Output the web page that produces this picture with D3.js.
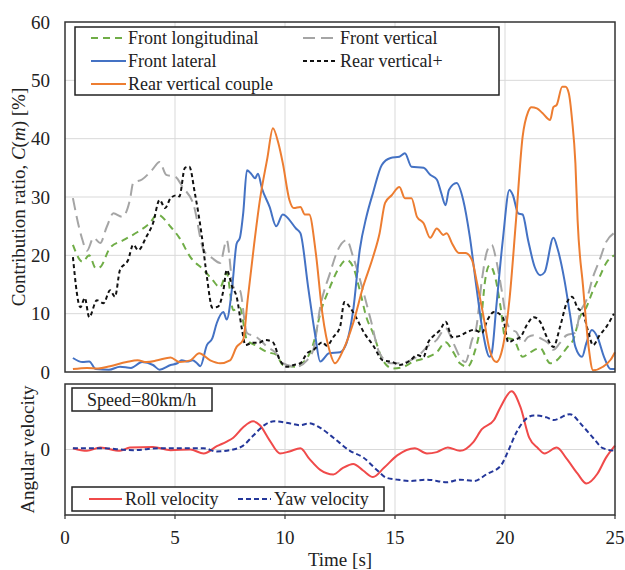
<!DOCTYPE html>
<html>
<head>
<meta charset="utf-8">
<script src="https://cdn.jsdelivr.net/npm/d3@7"></script>
<style>
  body { margin: 0; background: #fff; }
</style>
</head>
<body>
<script>
var width = 625, height = 570;

// contribution ratio [%], as [time s, value]
var frontLongitudinal = [[0.36,21.8],[0.8,18.9],[1.1,20],[1.4,17.8],[1.6,18],[2.05,21.3],[2.65,22.6],[3.3,24],[3.85,25.5],[4.2,27],[4.8,24.9],[5.2,23],[5.7,19.7],[6.3,17.5],[6.7,15.8],[7.05,14.5],[7.35,17],[7.65,10.6],[7.95,11],[8.27,5.5],[8.7,4.5],[9.2,3.4],[9.6,3],[9.9,1.2],[10.5,0.9],[10.8,1.5],[11.3,5],[11.6,10],[12.05,14.6],[12.4,17.5],[12.8,19.2],[13.1,18],[13.4,14],[13.7,9.4],[14,6.7],[14.45,2],[14.9,0.6],[15.4,0.9],[15.8,1.7],[16.45,2.5],[16.9,3.4],[17.3,5.1],[17.65,3.4],[17.95,1.5],[18.3,0.9],[18.6,3.2],[18.9,8.4],[19.1,15.8],[19.3,18.3],[19.55,16.3],[19.8,11.1],[20,6],[20.4,5.5],[20.8,2.6],[21.15,3.4],[21.6,4.1],[22.05,1.5],[22.35,2],[22.8,4.1],[23.1,5.5],[23.4,9.4],[23.7,11.1],[24,14],[24.3,16.3],[24.6,18.7],[24.95,20]];

var frontVertical = [[0.36,29.8],[0.75,23.2],[1.0,20.8],[1.3,23],[1.6,22.1],[1.9,24.9],[2.2,27.2],[2.6,26.6],[2.95,29.5],[3.1,32.4],[3.5,33],[3.95,34.6],[4.3,36],[4.6,33.8],[5.0,33.5],[5.35,31.7],[5.85,28.6],[6.3,20.9],[6.7,19.5],[7.05,18.7],[7.35,22.6],[7.65,14.6],[7.95,14],[8.27,6.7],[8.7,6],[9.2,4.3],[9.6,3.2],[9.9,1.5],[10.5,0.9],[11,2],[11.3,4],[11.6,11.1],[12.05,17],[12.4,20.9],[12.8,22.6],[13.1,19.7],[13.5,14.6],[13.9,8.9],[14.3,3.2],[14.8,1.5],[15.2,1.5],[15.7,2],[16.1,2.9],[16.45,4.3],[16.9,5.5],[17.3,7.5],[17.65,5],[17.95,2.6],[18.2,1.7],[18.5,5.5],[18.7,7.7],[18.95,15.8],[19.2,20.9],[19.4,21.8],[19.6,19.2],[19.85,14],[20.1,8.4],[20.3,7.2],[20.5,6.9],[20.8,5],[21.05,6],[21.3,6.3],[21.6,5.8],[21.95,5],[22.2,3.8],[22.5,5],[22.8,6.3],[23.2,6.7],[23.4,10],[23.7,12.3],[24,16.3],[24.3,19.2],[24.6,22.3],[24.95,23.8]];

var frontLateral = [[0.36,2.4],[0.8,1.7],[1.1,1.8],[1.4,0.5],[2.0,0.4],[2.5,0.9],[3.0,0.7],[3.5,1.7],[4.0,1.2],[4.3,0.4],[4.8,1.2],[5.1,1.5],[5.3,2.0],[5.6,1.8],[5.8,2.0],[6.0,1.5],[6.15,1.0],[6.45,4.6],[6.7,5.8],[6.9,8.4],[7.2,10.3],[7.35,9],[7.6,14.6],[7.8,22],[7.95,23],[8.1,27.2],[8.27,34.6],[8.5,33.8],[8.64,33.2],[8.77,34],[8.95,31.5],[9.3,28.3],[9.6,25],[9.9,27],[10.5,24.6],[10.7,23.8],[11.05,14.6],[11.36,6.6],[11.6,1.8],[12.0,3.2],[12.5,3.4],[12.8,5],[13.1,10.6],[13.4,21],[13.7,26.6],[14,30.7],[14.4,35.5],[14.8,36.7],[15.2,36.9],[15.45,37.5],[15.75,35.2],[16.3,35],[16.6,33.8],[16.9,33],[17.1,30.7],[17.3,28.6],[17.45,31.2],[17.8,32.4],[18.1,29.5],[18.4,23.2],[18.7,14.6],[19,6.7],[19.3,2.6],[19.4,3.3],[19.6,11],[19.9,22.6],[20.2,31.2],[20.36,30.3],[20.6,27.2],[20.8,27],[21.05,22.6],[21.35,18],[21.6,16.6],[21.8,17.1],[22.2,23],[22.4,21],[22.7,15.8],[22.95,10],[23.2,4.3],[23.5,2.6],[23.7,5],[23.95,7.2],[24.2,6],[24.5,2.6],[24.8,0.5],[25,0.5]];

var rearVerticalPlus = [[0.36,19.7],[0.7,11.1],[0.9,12.7],[1.1,9.4],[1.45,12.3],[1.75,11.8],[2.05,14],[2.27,12.9],[2.5,17.5],[2.87,19.2],[3.1,21.8],[3.33,20.9],[3.7,23.2],[4.0,25.5],[4.3,29.5],[4.55,28.1],[4.8,29.8],[5.08,30.3],[5.2,30.1],[5.45,35],[5.65,35.2],[5.9,30.7],[6.2,23.8],[6.45,16.3],[6.7,11],[6.95,11.2],[7.2,14],[7.35,17.5],[7.6,14.6],[7.8,12.9],[8.05,7.2],[8.2,4.6],[8.5,5],[8.8,5],[9.1,5.5],[9.45,5.1],[9.77,2],[10.1,0.9],[10.4,1.2],[10.7,1.5],[11,3.2],[11.3,3.8],[11.7,5.1],[11.9,4.5],[12.2,6],[12.5,7.7],[12.7,12],[12.95,11.1],[13.25,9.2],[13.6,6.7],[14,4.6],[14.45,2],[14.9,1.7],[15.2,1.2],[15.7,2],[16,2.9],[16.3,2.6],[16.5,5],[16.7,6],[17.05,7.2],[17.3,8.6],[17.6,6],[17.95,6.2],[18.3,6.9],[18.6,7.2],[18.95,6.7],[19.2,8.9],[19.5,10.3],[19.9,9.4],[20.15,5.1],[20.4,5.5],[20.7,6],[21,8.1],[21.3,9.4],[21.6,8.6],[21.9,6],[22.2,4.3],[22.5,7.7],[22.8,11.8],[23.05,12.9],[23.3,11],[23.55,10],[23.8,6.7],[24,4.6],[24.3,6.3],[24.6,7.7],[24.95,10]];

var rearVerticalCouple = [[0.36,0.5],[1.0,0.7],[1.5,0.6],[2.05,1.0],[2.8,1.7],[3.3,2.0],[3.7,1.7],[4.2,2.0],[4.8,2.5],[5.2,1.7],[5.7,2.0],[6.1,3.2],[6.6,2.0],[7.05,1.5],[7.5,2.0],[7.8,4.3],[8.1,5.5],[8.3,12.3],[8.6,22],[8.86,29.5],[9.2,36.7],[9.45,41.8],[9.7,39.2],[9.9,35.8],[10.2,29.5],[10.4,28.1],[10.7,28.3],[10.9,27],[11.1,27],[11.4,20.4],[11.7,10],[12.05,3.3],[12.27,1.5],[12.65,3.8],[13.1,8.4],[13.55,14.6],[14,19.7],[14.3,23.8],[14.55,29],[14.85,30.3],[15.2,31.7],[15.45,29.8],[15.75,29.8],[16,26.6],[16.3,25.5],[16.6,23],[16.9,24.6],[17.2,23.5],[17.35,23.8],[17.6,22],[17.9,20.4],[18.2,20.4],[18.5,19.2],[18.7,15.8],[19,10],[19.3,3.8],[19.6,1.7],[19.9,4.3],[20.2,12.3],[20.5,26],[20.8,40.3],[21.05,44.6],[21.2,45.4],[21.45,45.2],[21.7,44.4],[22.05,43.2],[22.2,45.4],[22.35,45.8],[22.6,48.9],[22.75,48.9],[22.9,47.8],[23.05,43.2],[23.2,35.8],[23.3,26],[23.55,14.6],[23.8,4.3],[24,0.3],[24.45,0.9],[24.8,2.1],[25,3.4]];

// angular velocity (no unit on the axis, scaled to -1..1)
var rollVelocity = [[0.36,0.02],[1,-0.02],[1.6,0.03],[2.5,-0.02],[2.95,0.03],[4,0.04],[4.8,-0.01],[5.7,0],[6.3,-0.06],[6.9,0.05],[7.35,0.12],[7.65,0.18],[8.1,0.34],[8.55,0.43],[8.86,0.37],[9.3,0.14],[9.77,-0.06],[10.2,-0.03],[10.7,0.02],[11.1,-0.14],[11.6,-0.31],[12.2,-0.38],[12.6,-0.29],[13.1,-0.22],[13.55,-0.32],[14,-0.42],[14.5,-0.28],[15.1,-0.09],[15.9,0.02],[16.45,-0.06],[16.9,-0.04],[17.4,0.03],[17.95,-0.02],[18.55,0.11],[18.95,0.31],[19.5,0.45],[19.8,0.65],[20.3,0.89],[20.7,0.65],[21.1,0.18],[21.5,0.02],[21.8,-0.06],[22.35,0.03],[22.8,-0.14],[23.3,-0.37],[23.7,-0.52],[24.2,-0.37],[24.6,-0.12],[25,0.06]];

var yawVelocity = [[0.36,0.02],[1.6,0.02],[3.1,-0.01],[4.3,0.02],[5.5,0.02],[6.3,0.02],[6.9,-0.03],[7.65,0],[8.1,0.06],[8.55,0.21],[9.1,0.38],[9.5,0.43],[10.2,0.4],[10.7,0.37],[11.1,0.4],[11.6,0.33],[12.2,0.18],[12.95,-0.02],[13.55,-0.12],[14.2,-0.32],[14.6,-0.43],[15.1,-0.46],[15.7,-0.48],[16.45,-0.46],[17.35,-0.5],[17.95,-0.46],[18.6,-0.48],[19.2,-0.37],[19.8,-0.25],[20.15,-0.02],[20.5,0.25],[21,0.48],[21.3,0.52],[21.9,0.49],[22.2,0.45],[22.95,0.54],[23.5,0.37],[24,0.18],[24.45,0.02],[25,-0.02]];

var topTicks = [0, 10, 20, 30, 40, 50, 60];
var timeTicks = [0, 5, 10, 15, 20, 25];

var topSeries = [
    {name: "Front longitudinal", data: frontLongitudinal, color: "#70ad47", dash: "7,5"},
    {name: "Front vertical", data: frontVertical, color: "#a5a5a5", dash: "12,6"},
    {name: "Front lateral", data: frontLateral, color: "#4472c4", dash: null},
    {name: "Rear vertical+", data: rearVerticalPlus, color: "#111", dash: "4,3"},
    {name: "Rear vertical couple", data: rearVerticalCouple, color: "#ed7d31", dash: null}
];
var bottomSeries = [
    {name: "Roll velocity", data: rollVelocity, color: "#f04a4a", dash: null},
    {name: "Yaw velocity", data: yawVelocity, color: "#24379a", dash: "5,3"}
];

var svg = d3.select("body").append("svg")
    .attr("width", width)
    .attr("height", height)
    .attr("font-family", "'Liberation Serif', 'Times New Roman', Times, serif")
    .attr("fill", "#222");

var x = d3.scaleLinear().domain([0, 25]).range([65, 615]);
var yTop = d3.scaleLinear().domain([0, 60]).range([372, 22]);
var yBot = d3.scaleLinear().domain([-1, 1]).range([515, 384]);

// grid
var grid = svg.append("g").attr("stroke", "#d9d9d9").attr("stroke-width", 1);
timeTicks.slice(1, -1).forEach(function(t) {
    grid.append("line").attr("x1", x(t)).attr("x2", x(t)).attr("y1", yTop(60)).attr("y2", yTop(0));
    grid.append("line").attr("x1", x(t)).attr("x2", x(t)).attr("y1", yBot(1)).attr("y2", yBot(-1));
});
topTicks.slice(1, -1).forEach(function(v) {
    grid.append("line").attr("x1", x(0)).attr("x2", x(25)).attr("y1", yTop(v)).attr("y2", yTop(v));
});
grid.append("line").attr("x1", x(0)).attr("x2", x(25)).attr("y1", yBot(0)).attr("y2", yBot(0));

// lines
var lineTop = d3.line().x(function(d) { return x(d[0]); }).y(function(d) { return yTop(d[1]); })
    .curve(d3.curveMonotoneX);
var lineBot = d3.line().x(function(d) { return x(d[0]); }).y(function(d) { return yBot(d[1]); })
    .curve(d3.curveMonotoneX);

svg.append("g").selectAll("path")
    .data(topSeries)
    .enter()
    .append("path")
    .attr("d", function(d) { return lineTop(d.data); })
    .attr("fill", "none")
    .attr("stroke", function(d) { return d.color; })
    .attr("stroke-width", 2)
    .attr("stroke-dasharray", function(d) { return d.dash; });

svg.append("g").selectAll("path")
    .data(bottomSeries)
    .enter()
    .append("path")
    .attr("d", function(d) { return lineBot(d.data); })
    .attr("fill", "none")
    .attr("stroke", function(d) { return d.color; })
    .attr("stroke-width", 2)
    .attr("stroke-dasharray", function(d) { return d.dash; });

// frames
svg.append("rect").attr("x", x(0)).attr("y", yTop(60)).attr("width", x(25) - x(0)).attr("height", yTop(0) - yTop(60))
    .attr("fill", "none").attr("stroke", "#333").attr("stroke-width", 1.5);
svg.append("rect").attr("x", x(0)).attr("y", yBot(1)).attr("width", x(25) - x(0)).attr("height", yBot(-1) - yBot(1))
    .attr("fill", "none").attr("stroke", "#333").attr("stroke-width", 1.5);

// axes labels
svg.append("g").selectAll("text")
    .data(topTicks)
    .enter()
    .append("text")
    .attr("x", 50)
    .attr("y", function(d) { return yTop(d); })
    .attr("dy", "0.35em")
    .attr("text-anchor", "end")
    .style("font-size", "19px")
    .text(function(d) { return d; });

svg.append("text").attr("x", 50).attr("y", yBot(0)).attr("dy", "0.35em")
    .attr("text-anchor", "end").style("font-size", "19px").text("0");

var ticks = svg.append("g");
timeTicks.forEach(function(t) {
    ticks.append("line").attr("x1", x(t)).attr("x2", x(t)).attr("y1", yBot(-1)).attr("y2", yBot(-1) + 4)
        .attr("stroke", "#333").attr("stroke-width", 1.2);
    ticks.append("text").attr("x", x(t)).attr("y", 544).attr("text-anchor", "middle")
        .style("font-size", "19px").text(t);
});

svg.append("text").attr("x", 340).attr("y", 566).attr("text-anchor", "middle")
    .style("font-size", "19px").text("Time [s]");

var yl = svg.append("text")
    .attr("transform", "translate(25," + ((yTop(0) + yTop(60)) / 2) + ") rotate(-90)")
    .attr("text-anchor", "middle")
    .style("font-size", "19px");
yl.append("tspan").text("Contribution ratio, ");
yl.append("tspan").style("font-style", "italic").text("C");
yl.append("tspan").text("(");
yl.append("tspan").style("font-style", "italic").text("m");
yl.append("tspan").text(") [%]");

svg.append("text")
    .attr("transform", "translate(34," + yBot(0) + ") rotate(-90)")
    .attr("text-anchor", "middle")
    .style("font-size", "19px")
    .text("Angular velocity");

// legend, top panel
svg.append("rect").attr("x", 75).attr("y", 27).attr("width", 424).attr("height", 68)
    .attr("fill", "#fff").attr("stroke", "#222").attr("stroke-width", 1.5);
var legPos = [[91, 38], [303, 38], [91, 61], [303, 61], [91, 84]];
topSeries.forEach(function(s, i) {
    var p = legPos[i];
    svg.append("line").attr("x1", p[0]).attr("x2", p[0] + 35).attr("y1", p[1]).attr("y2", p[1])
        .attr("stroke", s.color).attr("stroke-width", 2).attr("stroke-dasharray", s.dash);
    svg.append("text").attr("x", p[0] + 37).attr("y", p[1]).attr("dy", "0.35em")
        .style("font-size", "18px").text(s.name);
});

// speed box
svg.append("rect").attr("x", 72).attr("y", 388).attr("width", 140).attr("height", 23)
    .attr("fill", "#fff").attr("stroke", "#222").attr("stroke-width", 1.5);
svg.append("text").attr("x", 87).attr("y", 400).attr("dy", "0.35em")
    .style("font-size", "18px").text("Speed=80km/h");

// legend, bottom panel
svg.append("rect").attr("x", 72).attr("y", 487).attr("width", 312).attr("height", 24)
    .attr("fill", "#fff").attr("stroke", "#222").attr("stroke-width", 1.5);
var legPos2 = [[89, 499], [238, 499]];
bottomSeries.forEach(function(s, i) {
    var p = legPos2[i];
    svg.append("line").attr("x1", p[0]).attr("x2", p[0] + 33).attr("y1", p[1]).attr("y2", p[1])
        .attr("stroke", s.color).attr("stroke-width", 2).attr("stroke-dasharray", s.dash);
    svg.append("text").attr("x", p[0] + 36).attr("y", p[1]).attr("dy", "0.35em")
        .style("font-size", "18px").text(s.name);
});
</script>
</body>
</html>
